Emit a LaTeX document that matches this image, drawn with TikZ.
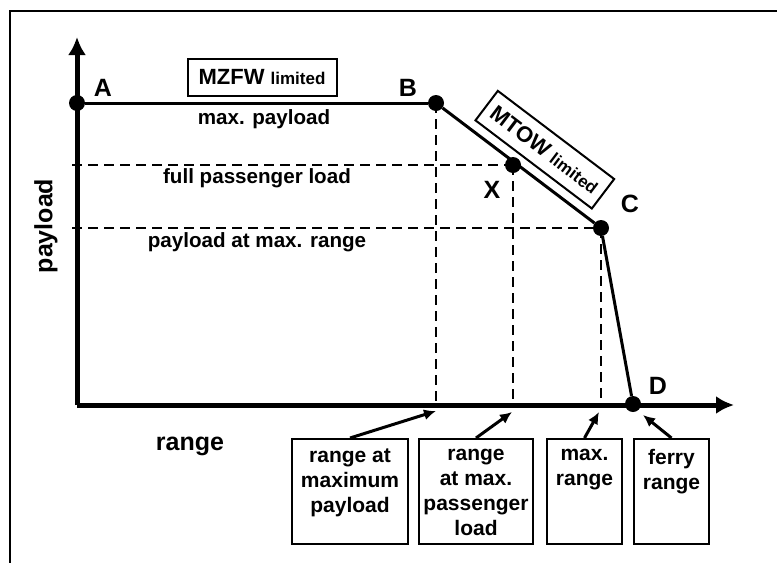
\documentclass[tikz,border=0pt]{standalone}
\usepackage{fontspec}
\setmainfont{Liberation Sans}
\usetikzlibrary{positioning}
\usetikzlibrary{calc}
\usetikzlibrary{arrows.meta}

\tikzset{
  dot/.style={circle,fill=black,inner sep=0pt,minimum size=16pt},
  letter/.style={font=\fontsize{25}{25}\selectfont\bfseries},
  axislabel/.style={font=\fontsize{25}{25}\selectfont\bfseries},
  linelabel/.style={font=\fontsize{20.6}{24}\selectfont\bfseries},
  limitbox/.style={draw,line width=2pt,inner sep=2pt,font=\fontsize{22}{24}\selectfont\bfseries},
  rangebox/.style={draw,line width=2pt,anchor=north,minimum height=105pt},
  boxtext/.style={anchor=north,align=center,inner sep=5pt,yshift=-6pt,font=\fontsize{21}{25}\selectfont\bfseries},
  curve/.style={line width=3pt},
  guide/.style={line width=1.5pt,dash pattern=on 10pt off 6pt},
  axis/.style={line width=5pt,-{Latex[length=18pt,width=18pt]}},
  pointer/.style={line width=3pt,-{Latex[length=12pt,width=11pt]}},
}

\begin{document}
\begin{tikzpicture}[x=1pt,y=-1pt]
\useasboundingbox (0,0) rectangle (777,563);

% frame
\coordinate (frameTR) at (777,11);
\coordinate (frameTL) at (10,11);
\coordinate (frameBL) at (10,563);
\draw[line width=2pt] (frameTR) -- (frameTL) -- (frameBL);

% axes
\coordinate (O) at (77,405);
\coordinate (yEnd) at (77,37);
\coordinate (xEnd) at (734,405);
\draw[axis] (O) -- (yEnd);
\draw[axis] (O) -- (xEnd);
\node[axislabel,rotate=90](payload) at (46,226){payload};
\node[axislabel](range) at (190,446){range};

% points
\node[dot](A) at (77,103){};
\node[dot](B) at (436,103){};
\node[dot](X) at (513,165){};
\node[dot](C) at (601,228){};
\node[dot](D) at (633,404){};
\node[letter](labA) at (103,88){A};
\node[letter](labB) at (408,88){B};
\node[letter](labX) at (492,190){X};
\node[letter](labC) at (630,204){C};
\node[letter](labD) at (658,386){D};

% guide lines
\coordinate (fullL) at (72,165);
\coordinate (maxL) at (72,228);
\coordinate (axB) at (436,405);
\coordinate (axX) at (513,405);
\coordinate (axC) at (601,405);
\draw[guide] (fullL) -- (X.center);
\draw[guide] (maxL) -- (C.center);
\draw[guide] (B.center) -- (axB);
\draw[guide] (X.center) -- (axX);
\draw[guide] (C.center) -- (axC);

% payload-range curve
\draw[curve] (A) -- (B);
\draw[curve] (B) -- node[limitbox,sloped,pos=0.56,above=9pt,minimum width=146pt,minimum height=37pt]{MTOW {\fontsize{17}{17}\selectfont limited}} (C);
\draw[curve] (C) -- (D);

\node[limitbox,minimum width=149pt,minimum height=37pt](mzfw) at (262,77){MZFW {\fontsize{17}{17}\selectfont limited}};
\node[linelabel](maxpay) at (264,119){max. payload};
\node[linelabel](fullpax) at (257,178){full passenger load};
\node[linelabel](paymax) at (257,242){payload at max. range};

% range boxes
\node[rangebox,minimum width=116pt](rB) at (350,438){};
\node[rangebox,minimum width=114pt](rX) at (476,438){};
\node[rangebox,minimum width=75pt](rC) at (584.5,438){};
\node[rangebox,minimum width=75pt](rD) at (671.5,438){};
\node[boxtext](tB) at (rB.north){range at\\maximum\\payload};
\node[boxtext](tX) at (rX.north){range\\at max.\\passenger\\load};
\node[boxtext](tC) at (rC.north){max.\\range};
\node[boxtext](tD) at (rD.north){ferry\\range};

\coordinate (pB) at (436,411);
\coordinate (pX) at (512,412);
\coordinate (pC) at (599,412);
\coordinate (pD) at (643,415);

\path
(rB.north) edge[pointer] (pB)
(rX.north) edge[pointer] (pX)
(rC.north) edge[pointer] (pC)
(rD.north) edge[pointer] (pD);
\end{tikzpicture}
\end{document}
